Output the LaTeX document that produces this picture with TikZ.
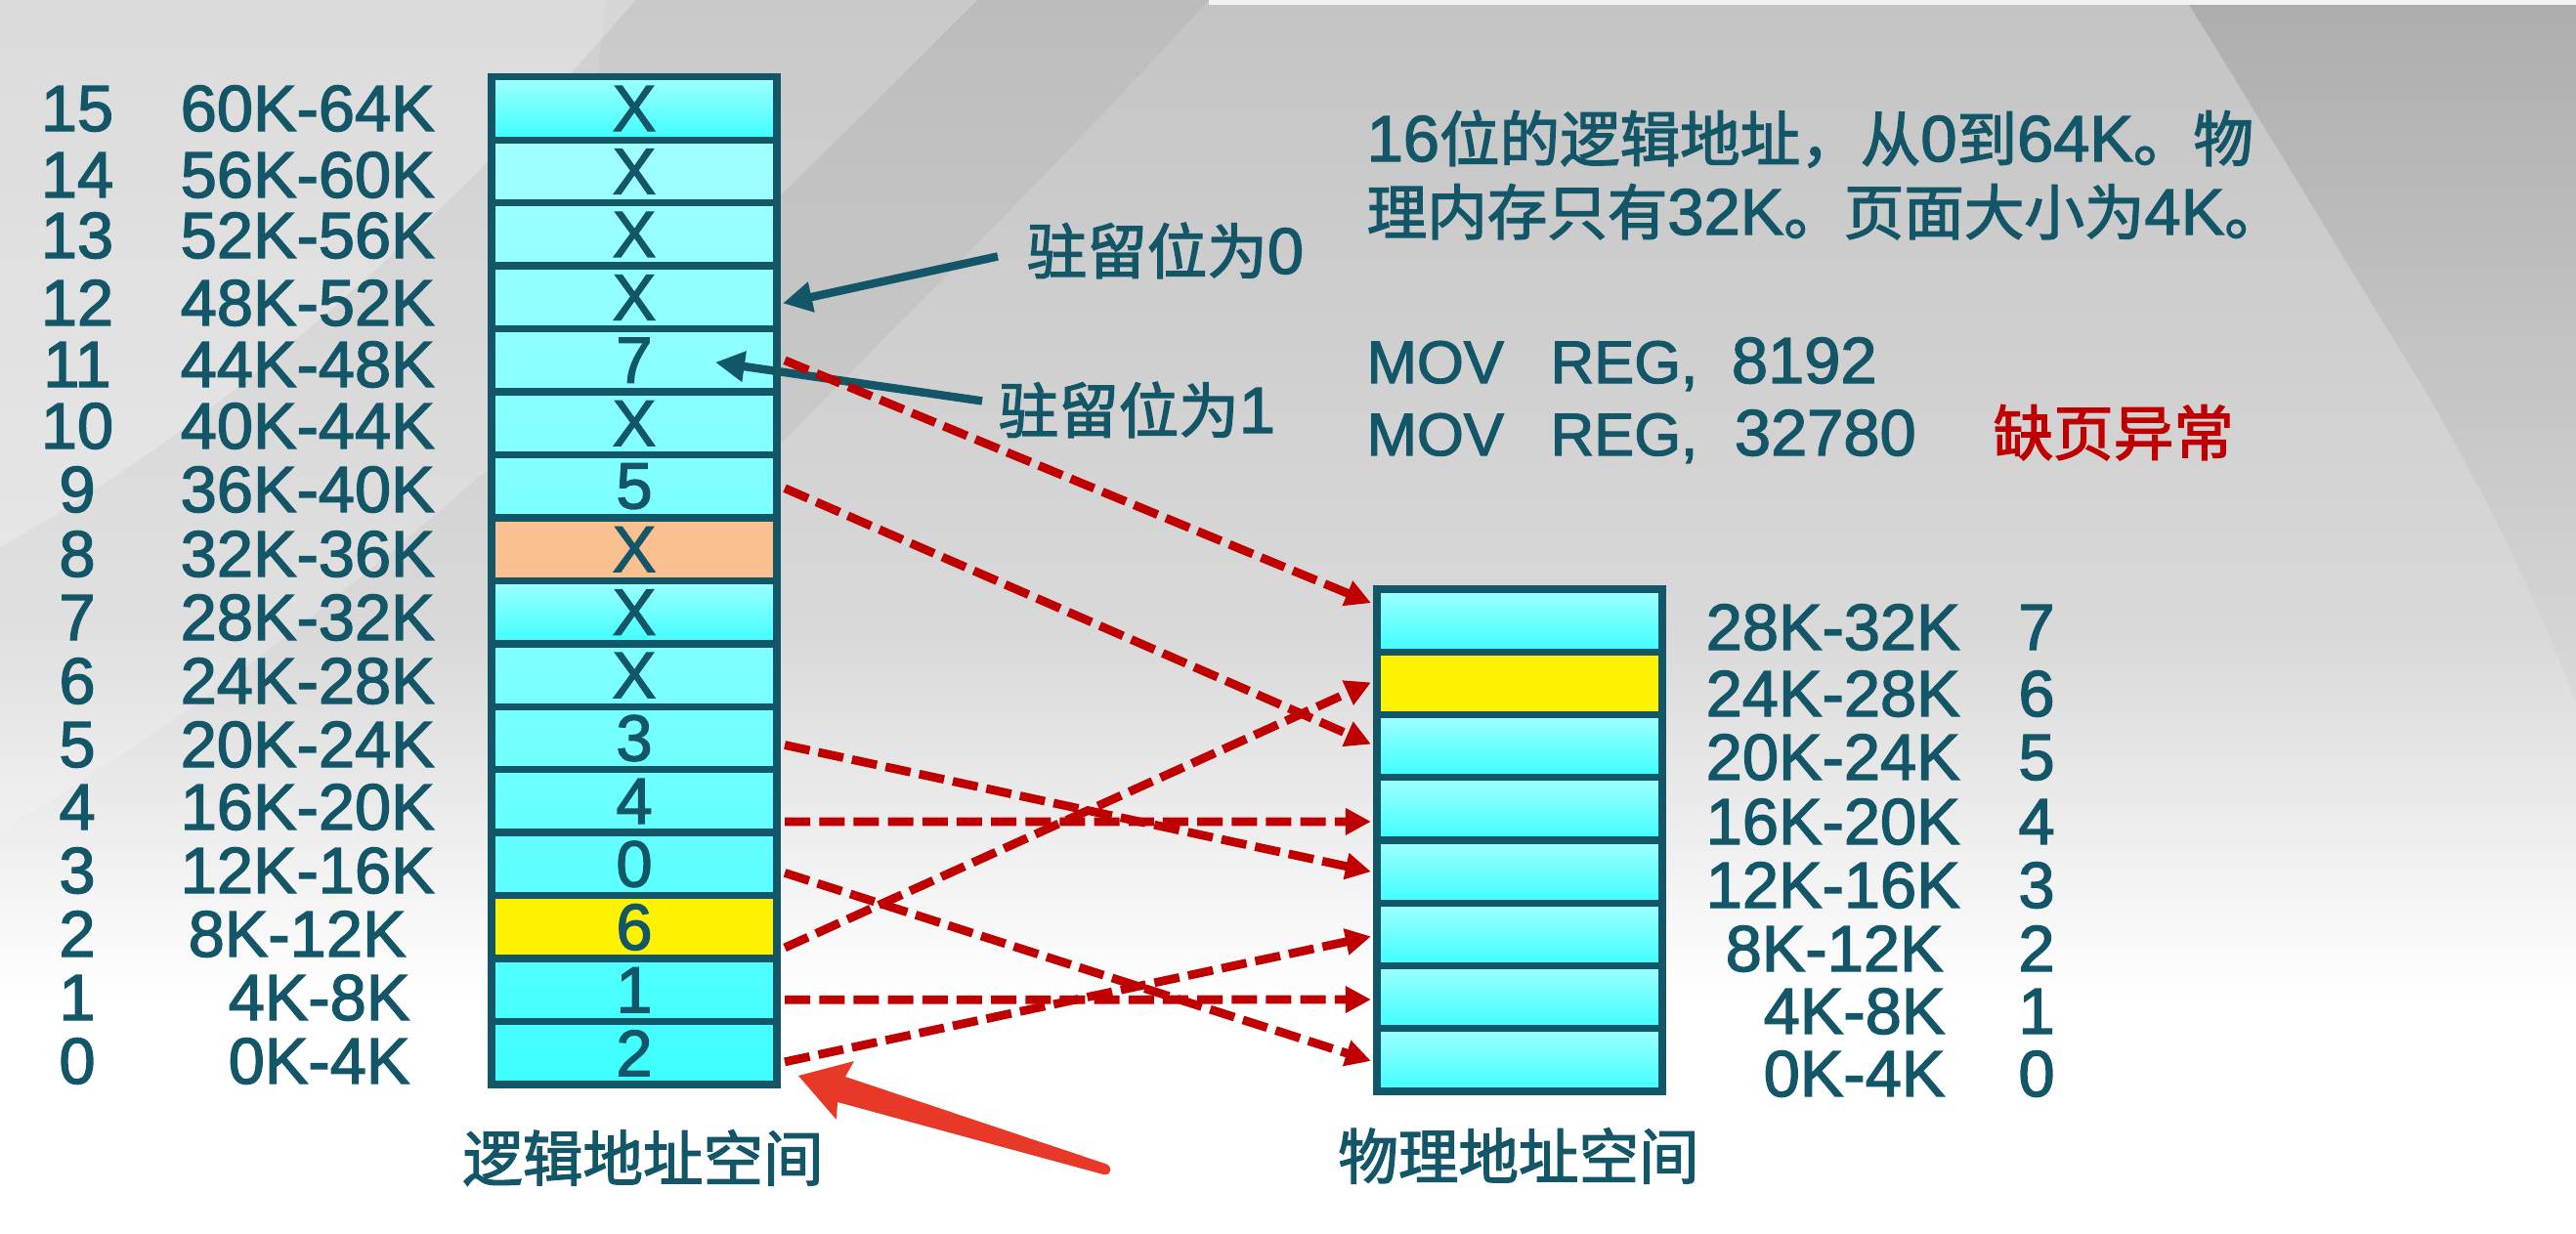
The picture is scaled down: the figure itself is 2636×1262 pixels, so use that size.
\documentclass[tikz,border=0pt]{standalone}
\usepackage{fontspec}
\setmainfont{Liberation Sans}[RawFeature={embolden=2}]
\newfontfamily\cjkfont{Noto Sans CJK SC}[RawFeature={embolden=2.2}]
\usetikzlibrary{arrows.meta,calc}
\definecolor{tealtxt}{RGB}{18,86,104}
\definecolor{lcy}{RGB}{160,255,255}
\definecolor{dcy}{RGB}{60,255,255}
\definecolor{orng}{RGB}{250,192,144}
\definecolor{dred}{RGB}{192,0,0}
\definecolor{bred}{RGB}{232,56,40}
\definecolor{bgA}{RGB}{196,196,196}
\definecolor{bgB}{RGB}{217,217,217}
\definecolor{bgR}{RGB}{170,170,170}
\newcommand\zh[1]{{\cjkfont\fontsize{17.5}{21}\selectfont #1}}
\newcommand\lt[1]{{\fontsize{19}{22}\selectfont #1}}
\begin{document}
\begin{tikzpicture}[x=0.01cm,y=-0.01cm,
  lat/.style={font=\fontsize{19}{22}\selectfont, text=tealtxt, inner sep=0pt, anchor=base west},
  idx/.style={font=\fontsize{19}{22}\selectfont, text=tealtxt, inner sep=0pt, anchor=base},
  zhlab/.style={text=tealtxt, inner sep=0pt, anchor=base west},
  cellbox/.style={draw=tealtxt, line width=2.1pt, minimum width=2.92cm, minimum height=0.6445cm,
     inner sep=0pt, outer sep=0pt, font=\fontsize{19}{22}\selectfont, text=tealtxt},
  pcell/.style={cellbox, minimum height=0.6425cm},
  grad/.style 2 args={top color=dcy!#1!lcy, bottom color=dcy!#2!lcy},
  tarrow/.style={draw=tealtxt, line width=2.4pt, -{Triangle[length=8.5pt,width=8.5pt]}},
  rdash/.style={draw=dred, line width=2.5pt, dash pattern=on 7.4pt off 2.6pt, -{Triangle[length=7.4pt,width=7.4pt]}}
]
\useasboundingbox (0,0) rectangle (2636,1262);
% ---------- background ----------
\shade[top color=bgA, bottom color=bgB] (0,0) rectangle (2636,652);
\shade[top color=bgB, bottom color=white] (0,650) rectangle (2636,1022);
\fill[white] (0,1020) rectangle (2636,1262);
\fill[black, opacity=0.04] (620,0) -- (1237,0) .. controls (1100,150) and (950,300) .. (801,452)
   .. controls (700,560) and (620,640) .. (520,720) .. controls (560,450) and (600,200) .. (620,0) -- cycle;
\shade[top color=bgR, bottom color=bgB, opacity=0.85] (2237,0) .. controls (2330,150) and (2420,300) .. (2482,400)
   .. controls (2540,500) and (2600,620) .. (2636,720) -- (2636,0) -- cycle;
\fill[white, opacity=0.2] (0,0) -- (1000,0) .. controls (700,300) and (350,650) .. (0,850) -- cycle;
\fill[white, opacity=0.25] (0,0) -- (650,0) .. controls (480,200) and (250,420) .. (0,560) -- cycle;
\fill[white!90!gray] (1237,0) rectangle (2636,5);
% ---------- logical cells ----------
\node[cellbox, grad={0}{100}]  (L15) at (649,111.0) {X};
\node[cellbox, grad={0}{6}]    (L14) at (649,175.5) {X};
\node[cellbox, grad={6}{12}]   (L13) at (649,239.9) {X};
\node[cellbox, grad={12}{18}]  (L12) at (649,304.4) {X};
\node[cellbox, grad={18}{24}]  (L11) at (649,368.8) {7};
\node[cellbox, grad={24}{30}]  (L10) at (649,433.3) {X};
\node[cellbox, grad={30}{36}]  (L9)  at (649,497.7) {5};
\node[cellbox, fill=orng]      (L8)  at (649,562.2) {X};
\node[cellbox, grad={0}{100}]  (L7)  at (649,626.6) {X};
\node[cellbox, grad={30}{40}]  (L6)  at (649,691.1) {X};
\node[cellbox, grad={40}{50}]  (L5)  at (649,755.5) {3};
\node[cellbox, grad={50}{60}]  (L4)  at (649,820.0) {4};
\node[cellbox, grad={60}{70}]  (L3)  at (649,884.4) {0};
\node[cellbox, fill=yellow]    (L2)  at (649,948.9) {6};
\node[cellbox, grad={80}{90}]  (L1)  at (649,1013.3) {1};
\node[cellbox, grad={90}{100}] (L0)  at (649,1077.8) {2};
% ---------- physical cells ----------
\node[pcell, grad={0}{100}] (P7) at (1555,635.1) {};
\node[pcell, fill=yellow]   (P6) at (1555,699.4) {};
\node[pcell, grad={0}{100}] (P5) at (1555,763.6) {};
\node[pcell, grad={0}{100}] (P4) at (1555,827.9) {};
\node[pcell, grad={0}{100}] (P3) at (1555,892.1) {};
\node[pcell, grad={0}{100}] (P2) at (1555,956.4) {};
\node[pcell, grad={0}{100}] (P1) at (1555,1020.6) {};
\node[pcell, grad={0}{100}] (P0) at (1555,1084.9) {};
% ---------- logical labels ----------
\foreach \k/\b/\x/\r in {15/134/184/60K-64K, 14/202/184/56K-60K, 13/264/184/52K-56K, 12/333/184/48K-52K,
  11/396/184/44K-48K, 10/459/184/40K-44K, 9/524/184/36K-40K, 8/590/184/32K-36K, 7/655/184/28K-32K,
  6/720/184/24K-28K, 5/785/184/20K-24K, 4/849/184/16K-20K, 3/914/184/12K-16K, 2/979/192/8K-12K,
  1/1044/233/4K-8K, 0/1109/233/0K-4K}{
  \node[idx] (li\k) at (79,\b) {\k};
  \node[lat] (lr\k) at (\x,\b) {\r};
}
% ---------- physical labels ----------
\foreach \j/\b/\x/\r in {7/665/1745/28K-32K, 6/733/1745/24K-28K, 5/798/1745/20K-24K, 4/864/1745/16K-20K,
  3/929/1745/12K-16K, 2/994/1765/8K-12K, 1/1058/1804/4K-8K, 0/1122/1804/0K-4K}{
  \node[lat] (pr\j) at (\x,\b) {\r};
  \node[idx] (pi\j) at (2084,\b) {\j};
}
% ---------- titles ----------
\node[text=tealtxt, inner sep=0pt] (ltitle) at (658,1185) {\zh{逻辑地址空间}};
\node[text=tealtxt, inner sep=0pt] (ptitle) at (1554,1183) {\zh{物理地址空间}};
% ---------- notes ----------
\node[zhlab] (t1) at (1398,165) {\lt{16}\zh{位的逻辑地址，从}\lt{0}\zh{到}\lt{64K}\zh{。物}};
\node[zhlab] (t2) at (1398,240) {\zh{理内存只有}\lt{32K}\zh{。页面大小为}\lt{4K}\zh{。}};
\node[zhlab, font=\fontsize{17.5}{21}\selectfont] (m1) at (1398,392)
  {\makebox[1.88cm][l]{MOV}\makebox[1.85cm][l]{REG,}\lt{8192}};
\node[zhlab, font=\fontsize{17.5}{21}\selectfont] (m2) at (1398,466)
  {\makebox[1.88cm][l]{MOV}\makebox[1.88cm][l]{REG,}\lt{32780}};
\node[zhlab, text=dred] (pf) at (2039,466) {\zh{缺页异常}};
\node[zhlab] (r0) at (1050,280) {\zh{驻留位为}\lt{0}};
\node[zhlab] (r1) at (1021,443) {\zh{驻留位为}\lt{1}};
% ---------- teal arrows ----------
\draw[tarrow] ($(r0.west)+(-29,6)$) -- ($(L12.east)+(6,6)$);
\draw[tarrow] ($(r1.west)+(-16,-9)$) -- ($(L11.center)+(83,2)$);
% ---------- mapping arrows ----------
\draw[rdash] ($(L11.east)+(8,0)$)  -- ($(P7.west)+(-6,-18)$);
\draw[rdash] ($(L9.east)+(8,2)$)   -- ($(P5.west)+(-6,-2)$);
\draw[rdash] ($(L5.east)+(8,7)$)   -- ($(P3.west)+(-6,0)$);
\draw[rdash] ($(L4.east)+(8,21)$)  -- ($(P4.west)+(-6,13)$);
\draw[rdash] ($(L3.east)+(8,9)$)   -- ($(P0.west)+(-6,1)$);
\draw[rdash] ($(L2.east)+(8,21)$)  -- ($(P6.west)+(-6,-1)$);
\draw[rdash] ($(L1.east)+(8,10)$)  -- ($(P1.west)+(-6,2.4)$);
\draw[rdash] ($(L0.east)+(8,9)$)   -- ($(P2.west)+(-6,2)$);
% ---------- big red pointer ----------
\fill[bred] (817,1101) -- (874,1086) -- (865,1102) -- (1131,1191)
  .. controls (1139,1193) and (1138,1204) .. (1129,1202) -- (857,1128) -- (856,1146) -- cycle;
\end{tikzpicture}
\end{document}
